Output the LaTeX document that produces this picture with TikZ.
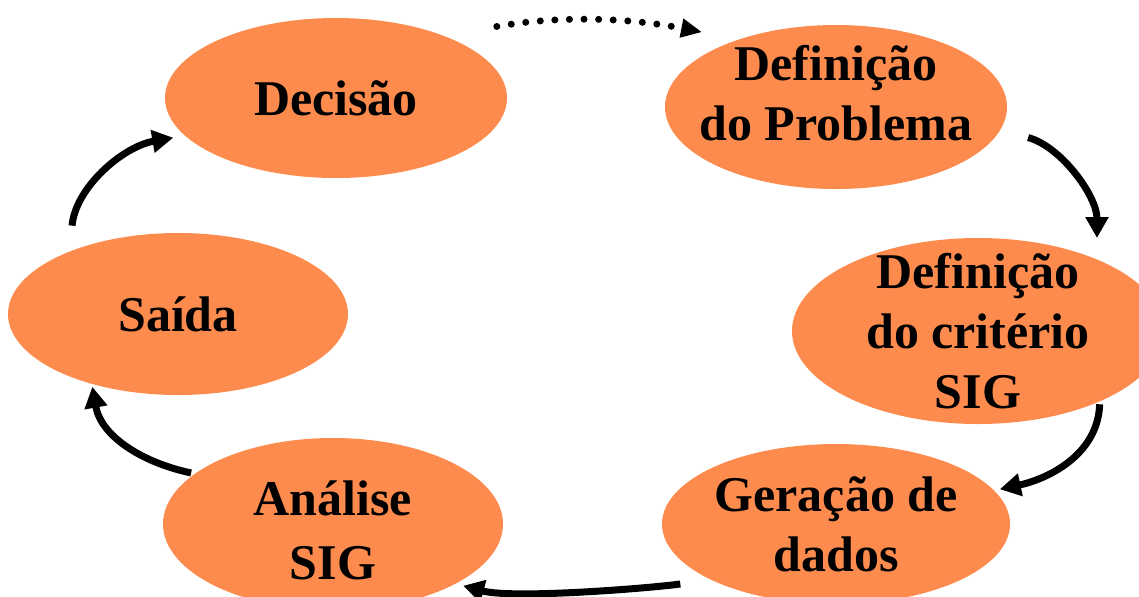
\documentclass[tikz,border=0pt]{standalone}
\usepackage{fontspec}
\setmainfont{Liberation Serif}
\usepackage{tikz}
\usetikzlibrary{shapes,arrows.meta}
\definecolor{stageorange}{RGB}{253,139,77}
\tikzstyle{stage} = [ellipse, fill=stageorange, draw=none, inner sep=0pt, outer sep=0pt]
\tikzstyle{stagetext} = [font=\fontsize{25}{30}\selectfont\bfseries, align=center, inner sep=0pt]
\tikzstyle{flow} = [draw, line width=3.5pt, -{Triangle[length=10.5pt,width=11pt]}]
\tikzstyle{dotflow} = [draw, line width=3.5pt, line cap=round, dash pattern=on 0pt off 7.3pt, -{Triangle[length=10.5pt,width=9pt]}]

\begin{document}
\begin{tikzpicture}[x=0.5pt,y=0.5pt]
\useasboundingbox (0,0) rectangle (1139,-596);

\node at (336,-98) [stage, minimum width=171pt, minimum height=80pt, label={[stagetext]center:Decisão}] (dec) {};
\node at (836,-107) [stage, minimum width=171pt, minimum height=82pt, label={[stagetext,yshift=7pt]center:{Definição\\do Problema}}] (prob) {};
\node at (978,-331) [stage, minimum width=186pt, minimum height=93pt, label={[stagetext]center:{Definição\\do critério\\SIG}}] (crit) {};
\node at (836,-524) [stage, minimum width=174pt, minimum height=80pt, label={[stagetext]center:{Geração de\\dados}}] (ger) {};
\node at (333,-524) [stage, minimum width=170pt, minimum height=86pt, label={[stagetext,yshift=-3pt,font=\fontsize{25}{32}\selectfont\bfseries]center:{Análise\\SIG}}] (ana) {};
\node at (178,-314) [stage, minimum width=170pt, minimum height=81pt, label={[stagetext]center:Saída}] (sai) {};

\path [dotflow, shorten <=27pt, shorten >=19pt] (dec.30) to[out=10, in=169] (prob.145);
\path [flow, shorten <=14.5pt, shorten >=10.75pt] (prob.-8) to[out=-15, in=90] (crit.31);
\path [flow, shorten <=1.5pt, shorten >=3pt] (crit.-30.6) to[out=-92, in=12] (ger.12);
\path [flow, shorten <=15.5pt, shorten >=4pt] (ger.204) to[out=188, in=-15, looseness=0.6] (ana.-26);
\path [flow, shorten <=2pt, shorten >=1.5pt] (ana.160) to[out=168, in=-80] (sai.219);
\path [flow, shorten <=13pt, shorten >=6pt] (sai.150) to[out=85, in=190] (dec.194);
\end{tikzpicture}
\end{document}
